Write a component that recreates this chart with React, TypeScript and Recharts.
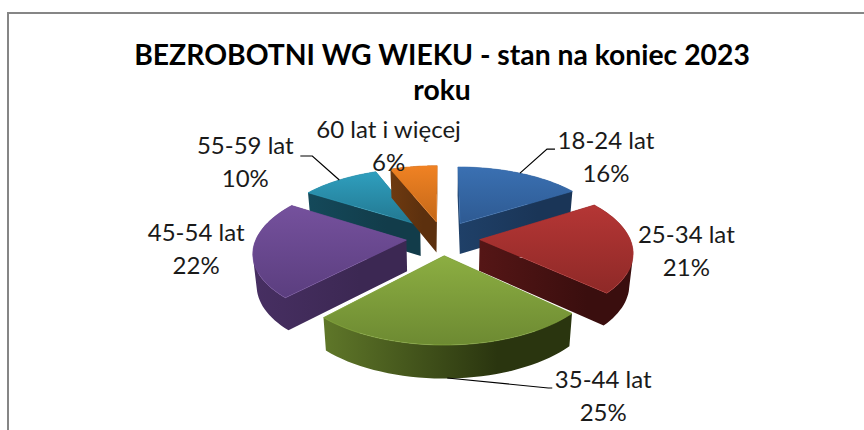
import React from 'react';
import { PieChart, Pie } from 'recharts';

const categories = ['55-59 lat', '60 lat i więcej', '18-24 lat', '25-34 lat', '35-44 lat', '45-54 lat'];
const shares = [10, 6, 16, 21, 25, 22];
const topLight = ['#2f9fbe', '#f08223', '#3a70b2', '#b53635', '#8cae42', '#75519d'];
const topDark = ['#22768f', '#c46819', '#2e5a92', '#8e2927', '#6d8a32', '#5b3e7f'];
const sideLight = ['#14495a', '#6e3a10', '#1f4068', '#551616', '#5f7729', '#472f62'];
const sideDark = ['#123c4a', '#5c300e', '#1a3557', '#3a0e0e', '#2a350f', '#3c2853'];

const pieData = categories.map((name, i) => ({ name, value: shares[i], colorIndex: i }));

// 3D look: tilt, perspective and how far each slice is pulled out
const TILT = 0.463;
const PERSPECTIVE = 0.1545;
const EXPLODE = 0.245;
const RAD = Math.PI / 180;

// label centre relative to the slice's outer rim point
const labelOffsets: Record<string, [number, number]> = {
  '18-24 lat': [86, -32],
  '25-34 lat': [54, -11],
  '35-44 lat': [153, 35],
  '45-54 lat': [-57, -16],
  '55-59 lat': [-94, -34],
  '60 lat i więcej': [-25, -37],
};

type Pt = { x: number; y: number; v: number };

const project = (cx: number, cy: number, r: number, u: number, v: number): Pt => {
  const s = 1 / (1 - PERSPECTIVE * v);
  return { x: cx + u * r * s, y: cy + v * r * TILT * s, v };
};

const drop = (cx: number, p: Pt): Pt => ({
  x: cx + (p.x - cx) * 0.98,
  y: p.y + 31 + 2 * p.v,
  v: p.v,
});

const toPath = (pts: { x: number; y: number }[]) =>
  'M' + pts.map((p) => `${p.x.toFixed(1)},${p.y.toFixed(1)}`).join('L') + 'Z';

// all quads wound the same way so they merge in one nonzero path
const wound = (pts: Pt[]) => {
  let area = 0;
  pts.forEach((p, i) => {
    const n = pts[(i + 1) % pts.length];
    area += p.x * n.y - n.x * p.y;
  });
  return area < 0 ? [...pts].reverse() : pts;
};

const rimPoint = (cx: number, cy: number, r: number, angle: number) => {
  const u = (1 + EXPLODE) * Math.cos(angle * RAD);
  const v = -(1 + EXPLODE) * Math.sin(angle * RAD);
  return project(cx, cy, r, u, v);
};

function Slice3D(props: any) {
  const { cx, cy, outerRadius: r, startAngle, endAngle, payload, index } = props;
  const c = payload.colorIndex;
  const mid = ((startAngle + endAngle) / 2) * RAD;
  const ou = EXPLODE * Math.cos(mid);
  const ov = -EXPLODE * Math.sin(mid);
  const steps = 36;
  const top = [project(cx, cy, r, ou, ov)];
  for (let i = 0; i <= steps; i++) {
    const a = (startAngle + ((endAngle - startAngle) * i) / steps) * RAD;
    top.push(project(cx, cy, r, ou + Math.cos(a), ov - Math.sin(a)));
  }
  const side = top
    .map((p, i) => {
      const n = top[(i + 1) % top.length];
      return toPath(wound([p, n, drop(cx, n), drop(cx, p)]));
    })
    .join('');
  const xs = top.map((p) => p.x);
  const sideId = `side-${index}`;
  const topId = `top-${index}`;
  return (
    <g>
      <defs>
        <linearGradient id={topId} x1="0" y1="0" x2="0" y2="1">
          <stop offset="0%" stopColor={topLight[c]} />
          <stop offset="100%" stopColor={topDark[c]} />
        </linearGradient>
        <linearGradient
          id={sideId}
          gradientUnits="userSpaceOnUse"
          x1={Math.min(...xs)}
          y1={0}
          x2={Math.max(...xs)}
          y2={0}
        >
          <stop offset="0%" stopColor={sideLight[c]} />
          <stop offset="70%" stopColor={sideDark[c]} />
          <stop offset="100%" stopColor={sideDark[c]} />
        </linearGradient>
      </defs>
      <path d={side} fill={`url(#${sideId})`} fillRule="nonzero" />
      <path d={toPath(top)} fill={`url(#${topId})`} stroke={topLight[c]} strokeWidth={0.6} />
    </g>
  );
}

function SliceLabel(props: any) {
  const { cx, cy, outerRadius, midAngle, name, value } = props;
  const rim = rimPoint(cx, cy, outerRadius, midAngle);
  const [dx, dy] = labelOffsets[name];
  const isFront = name === '35-44 lat';
  const from = isFront ? { x: rim.x - 3, y: rim.y + 33 } : rim;
  const tx = rim.x + dx;
  const ty = rim.y + dy;
  let leader: string | null = null;
  if (name === '18-24 lat') leader = `${from.x},${from.y} ${tx - 59},${ty + 8} ${tx - 51},${ty + 8}`;
  if (name === '55-59 lat') leader = `${from.x},${from.y} ${tx + 67},${ty + 10} ${tx + 55},${ty + 10}`;
  if (isFront) leader = `${from.x},${from.y} ${tx - 55},${ty + 8} ${tx - 51},${ty + 8}`;
  return (
    <g>
      {leader && <polyline points={leader} fill="none" stroke="#000" strokeWidth={1.2} />}
      <text x={tx} y={ty} textAnchor="middle" fontFamily="Lato" fontSize={24} fill="#1a1a1a">
        <tspan x={tx} dy={8}>{name}</tspan>
        <tspan x={tx} dy={33}>{value}%</tspan>
      </text>
    </g>
  );
}

export default function App() {
  return (
    <div style={{ position: 'absolute', left: 0, top: 0, width: 864, height: 430, overflow: 'hidden', background: '#fff' }}>
      <div style={{ position: 'absolute', left: 7, top: 12, width: 900, height: 500, borderLeft: '2px solid #868686', borderTop: '2px solid #868686' }} />
      <div style={{ position: 'absolute', left: 100, top: 37, width: 684, textAlign: 'center', fontFamily: 'Lato', fontWeight: 700, fontSize: 28.3, lineHeight: '35px', color: '#000' }}>
        BEZROBOTNI WG WIEKU - stan na koniec 2023
        <br />
        roku
      </div>
      <div style={{ position: 'absolute', left: 0, top: 0 }}>
        <PieChart width={864} height={430} margin={{ top: 0, right: 0, bottom: 0, left: 0 }}>
          <Pie
            data={pieData}
            dataKey="value"
            nameKey="name"
            cx={443}
            cy={238}
            outerRadius={150}
            startAngle={147.6}
            endAngle={-212.4}
            paddingAngle={0}
            stroke="none"
            shape={Slice3D}
            label={SliceLabel}
            labelLine={false}
            isAnimationActive={false}
          />
        </PieChart>
      </div>
    </div>
  );
}
